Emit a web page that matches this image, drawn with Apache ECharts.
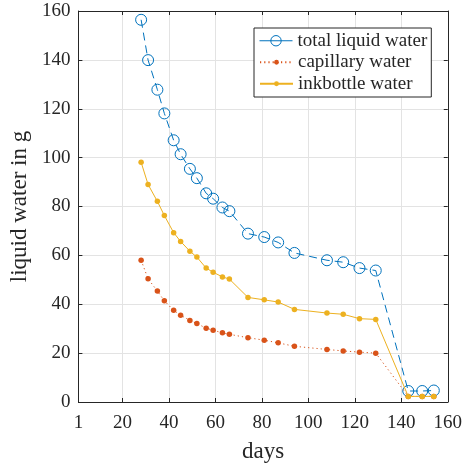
<!DOCTYPE html>
<html>
<head>
<meta charset="utf-8">
<script src="https://cdn.jsdelivr.net/npm/echarts@6/dist/echarts.min.js"></script>
<style>
html,body{margin:0;padding:0;background:#fff;}
#chart{width:465px;height:468px;}
</style>
</head>
<body>
<div id="chart"></div>
<script>
const days = [28,31,35,38,42,45,49,52,56,59,63,66,74,81,87,94,108,115,122,129,143,149,154];
const totalWater = [156.4,139.9,127.8,118.1,107.1,101.4,95.4,91.6,85.4,83.2,79.6,78.1,68.9,67.5,65.3,61.0,58.0,57.2,54.8,53.8,4.5,4.5,4.7];
const capillaryWater = [58.0,50.4,45.4,41.4,37.5,35.5,33.4,32.1,30.2,29.4,28.3,27.7,26.3,25.3,24.2,22.8,21.5,20.9,20.4,20.0,2.3,2.3,2.3];
const inkbottleWater = [98.1,89.0,82.1,76.3,69.3,65.7,61.7,59.3,54.8,53.1,51.2,50.3,42.8,41.8,40.9,37.9,36.4,35.9,34.1,33.8,2.3,2.3,2.3];
const xTicks = [1,20,40,60,80,100,120,140,160];
const seriesNames = ['total liquid water','capillary water','inkbottle water'];

const FONT = 'Liberation Serif';
const TXT = '#262626';
const pair = (xs, ys) => xs.map((x, i) => [x, ys[i]]);
const legendText = {fontFamily: FONT, fontSize: 19, color: TXT, lineHeight: 21.5};

const chart = echarts.init(document.getElementById('chart'));
chart.setOption({
  backgroundColor: '#fff',
  animation: false,
  grid: {left: 77, right: 16, top: 11, bottom: 65, containLabel: false},
  legend: [{
    orient: 'vertical',
    left: 254, top: 28,
    padding: [2, 4, 45.5, 5],
    itemGap: 0,
    itemWidth: 33, itemHeight: 13,
    borderColor: '#262626', borderWidth: 1,
    backgroundColor: '#fff',
    textStyle: legendText,
    data: [{name: seriesNames[0], lineStyle: {type: 'solid', width: 1},
            itemStyle: {color: 'rgba(255,255,255,0)', borderColor: '#0072BD', borderWidth: 1}}]
  }, {
    orient: 'vertical',
    left: 254, top: 51.5,
    padding: [0, 4, 0, 5],
    itemGap: 0,
    itemWidth: 33, itemHeight: 6,
    borderWidth: 0,
    backgroundColor: 'transparent',
    textStyle: legendText,
    data: [seriesNames[1], seriesNames[2]]
  }],
  xAxis: [{
    type: 'value', min: 1, max: 160, position: 'bottom',
    name: 'days', nameLocation: 'middle', nameGap: 38,
    nameTextStyle: {fontFamily: FONT, fontSize: 23, color: TXT},
    axisLine: {onZero: false, lineStyle: {color: TXT, width: 1}},
    axisTick: {inside: true, length: 4, customValues: xTicks, lineStyle: {color: TXT}},
    axisLabel: {customValues: xTicks, fontFamily: FONT, fontSize: 19, color: TXT, margin: 12},
    splitLine: {show: true, lineStyle: {color: '#e3e3e3', width: 1}}
  }, {
    type: 'value', min: 1, max: 160, position: 'top',
    axisLine: {onZero: false, lineStyle: {color: TXT, width: 1}},
    axisTick: {inside: true, length: 4, customValues: xTicks, lineStyle: {color: TXT}},
    axisLabel: {show: false},
    splitLine: {show: false}
  }],
  yAxis: [{
    type: 'value', min: 0, max: 160, interval: 20, position: 'left',
    name: 'liquid water in g', nameLocation: 'middle', nameGap: 42,
    nameTextStyle: {fontFamily: FONT, fontSize: 23, color: TXT},
    axisLine: {show: true, onZero: false, lineStyle: {color: TXT, width: 1}},
    axisTick: {show: true, inside: true, length: 4, lineStyle: {color: TXT}},
    axisLabel: {fontFamily: FONT, fontSize: 19, color: TXT, margin: 8},
    splitLine: {show: true, lineStyle: {color: '#e3e3e3', width: 1}}
  }, {
    type: 'value', min: 0, max: 160, interval: 20, position: 'right',
    axisLine: {show: true, onZero: false, lineStyle: {color: TXT, width: 1}},
    axisTick: {show: true, inside: true, length: 4, lineStyle: {color: TXT}},
    axisLabel: {show: false},
    splitLine: {show: false}
  }],
  series: [{
    name: seriesNames[0], type: 'line', xAxisIndex: 0, yAxisIndex: 0,
    data: pair(days, totalWater),
    symbol: 'circle', symbolSize: 11,
    itemStyle: {color: 'rgba(255,255,255,0)', borderColor: '#0072BD', borderWidth: 1},
    lineStyle: {color: '#0072BD', width: 1, type: [8, 5]},
    z: 2
  }, {
    name: seriesNames[1], type: 'line', xAxisIndex: 0, yAxisIndex: 0,
    data: pair(days, capillaryWater),
    symbol: 'circle', symbolSize: 5.5,
    itemStyle: {color: '#D95319', borderWidth: 0},
    lineStyle: {color: '#D95319', width: 1, type: [1.2, 3]},
    z: 3
  }, {
    name: seriesNames[2], type: 'line', xAxisIndex: 0, yAxisIndex: 0,
    data: pair(days, inkbottleWater),
    symbol: 'circle', symbolSize: 5.5,
    itemStyle: {color: '#EDB120', borderWidth: 0},
    lineStyle: {color: '#EDB120', width: 1},
    z: 4
  }]
});
</script>
</body>
</html>
